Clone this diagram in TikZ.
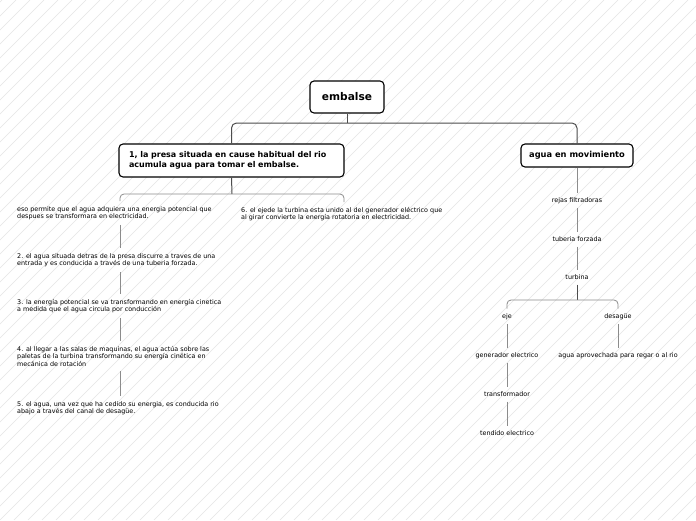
\documentclass[tikz,border=0pt]{standalone}
\usepackage{fontspec}
\setmainfont{DejaVu Sans}
\begin{document}
\begin{tikzpicture}[x=1pt,y=-1pt,
  hatch/.style={draw=black!10, line width=0.5pt},
  mainbox/.style={draw=black, line width=1.1pt, rounded corners=4pt, fill=white, inner sep=0pt},
  small/.style={font=\fontsize{6.4}{7.4}\selectfont, align=left, inner xsep=0pt, inner ysep=5pt},
  lbl/.style={font=\fontsize{6.4}{7.4}\selectfont, inner xsep=0pt, inner ysep=4.5pt},
  conn/.style={draw=black!70, line width=1pt},
  sub/.style={draw=black!45, line width=0.8pt}]
\useasboundingbox (0,0) rectangle (696,520);
\fill[white] (0,0) rectangle (696,520);
\begin{scope}
\clip (0,0) rectangle (696,520);
\foreach \i in {-532,-518,...,710} \draw[hatch] (\i,520) -- (\i+520,0);
\end{scope}

% main boxes
\node[mainbox, font=\fontsize{10.6}{12}\selectfont\bfseries, minimum width=74pt, minimum height=32pt] (root) at (347,97) {embalse};
\node[mainbox, font=\fontsize{8}{10}\selectfont\bfseries, inner xsep=10pt, text width=205pt, minimum height=33pt, align=left] (b1) at (231.5,160.5) {1, la presa situada en cause habitual del rio\\acumula agua para tomar el embalse.};
\node[mainbox, font=\fontsize{8.3}{10}\selectfont\bfseries, minimum width=112pt, minimum height=23pt] (b2) at (577,155.5) {agua en movimiento};

\coordinate (j0) at (347,123);
\draw[conn] (root.south) -- (j0);
\draw[conn, rounded corners=5pt] (b1.north) -- (b1.north |- j0) -- (b2.north |- j0) -- (b2.north);

% left branch texts
\coordinate (ca) at (120,0);
\coordinate (cb) at (344,0);
\coordinate (j1) at (232,194);
\node[small, anchor=north west] (t1) at (17,201) {eso permite que el agua adquiera una energia potencial que\\despues se transformara en electricidad.};
\node[small, anchor=north west] (t2) at (17,248) {2. el agua situada detras de la presa discurre a traves de una\\entrada y es conducida a través de una tuberia forzada.};
\node[small, anchor=north west] (t3) at (17,294) {3. la energía potencial se va transformando en energía cinetica\\a medida que el agua circula por conducción};
\node[small, anchor=north west] (t4) at (17,341) {4. al llegar a las salas de maquinas, el agua actúa sobre las\\paletas de la turbina transformando su energía cinética en\\mecánica de rotación};
\node[small, anchor=north west] (t5) at (17,396) {5. el agua, una vez que ha cedido su energia, es conducida rio\\abajo a través del canal de desagüe.};
\node[small, anchor=north west] (t6) at (241,202) {6. el ejede la turbina esta unido al del generador eléctrico que\\al girar convierte la energía rotatoria en electricidad.};

\draw[conn] (b1.south) -- (j1);
\draw[sub, rounded corners=4pt] (t1.north -| ca) -- (ca |- j1) -- (cb |- j1) -- (t6.north -| cb);
\draw[sub] (t1.south -| ca) -- (t2.north -| ca);
\draw[sub] (t2.south -| ca) -- (t3.north -| ca);
\draw[sub] (t3.south -| ca) -- (t4.north -| ca);
\draw[sub] (t4.south -| ca) -- (t5.north -| ca);

% right branch
\node[lbl] (r1) at (577,200.5) {rejas filtradoras};
\node[lbl] (r2) at (577,239.5) {tuberia forzada};
\node[lbl] (r3) at (577,277.5) {turbina};
\node[lbl] (e1) at (507,316.5) {eje};
\node[lbl] (d1) at (618,316.5) {desagüe};
\node[lbl] (g1) at (507,355.5) {generador electrico};
\node[lbl] (g2) at (507,394.5) {transformador};
\node[lbl] (g3) at (507,433.5) {tendido electrico};
\node[lbl] (d2) at (618,355.5) {agua aprovechada para regar o al rio};

\coordinate (j2) at (577,300);
\draw[sub] (b2.south) -- (r1.north);
\draw[sub] (r1.south) -- (r2.north);
\draw[sub] (r2.south) -- (r3.north);
\draw[conn] (r3.south) -- (j2);
\draw[sub, rounded corners=4pt] (e1.north) -- (e1.north |- j2) -- (d1.north |- j2) -- (d1.north);
\draw[sub] (e1.south) -- (g1.north);
\draw[sub] (g1.south) -- (g2.north);
\draw[sub] (g2.south) -- (g3.north);
\draw[sub] (d1.south) -- (d2.north);
\end{tikzpicture}
\end{document}
